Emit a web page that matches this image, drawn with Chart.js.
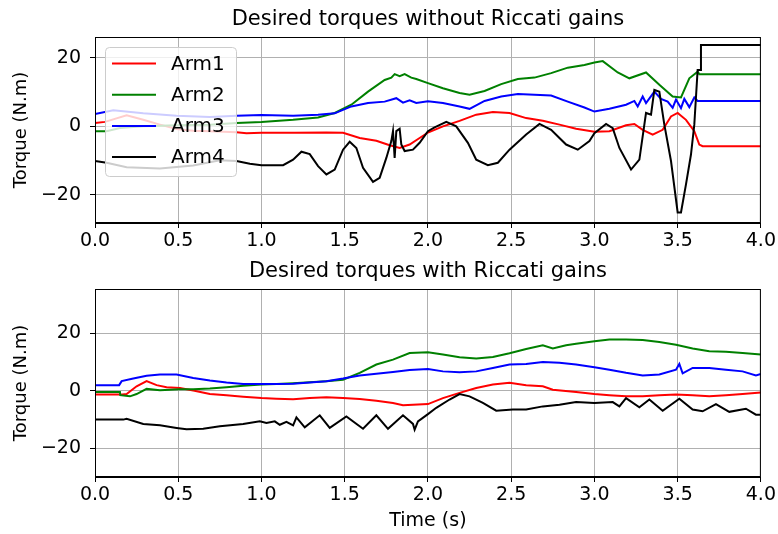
<!DOCTYPE html>
<html>
<head>
<meta charset="utf-8">
<script src="https://cdn.jsdelivr.net/npm/chart.js@4.4.1/dist/chart.umd.min.js"></script>
<style>
html, body { margin: 0; padding: 0; background: #fff; }
#wrap { position: relative; width: 778px; height: 534px; }
canvas { position: absolute; left: 0; }
#top_chart { top: 0; }
#bot_chart { top: 258px; }
</style>
</head>
<body>
<div id="wrap">
  <canvas id="top_chart" width="778" height="258"></canvas>
  <canvas id="bot_chart" width="778" height="276"></canvas>
</div>
<script>
const $ = e => document.querySelector(e);

const arms = ['Arm1', 'Arm2', 'Arm3', 'Arm4'];
const colors = ['#ff0000', '#008000', '#0000ff', '#000000'];
const yTicks = [-20, 0, 20];

// without Riccati gains: [time (s), torque (N.m)]
const topArm1 = [[0,1.0],[0.06,1.3],[0.19,3.2],[0.29,1.9],[0.39,0.5],[0.49,-0.8],[0.59,-1.3],[0.69,-1.4],[0.85,-1.7],[0.91,-2.0],[1.0,-1.9],[1.2,-1.9],[1.39,-1.8],[1.49,-1.9],[1.59,-3.4],[1.69,-4.2],[1.77,-5.5],[1.83,-6.3],[1.89,-5.3],[1.95,-3.4],[2.0,-1.8],[2.09,0],[2.19,1.6],[2.29,3.4],[2.39,4.2],[2.49,3.9],[2.59,2.4],[2.69,1.6],[2.79,0.5],[2.89,-0.7],[3.0,-1.6],[3.09,-1.4],[3.19,0.3],[3.24,0.7],[3.29,-1.0],[3.35,-2.4],[3.41,-1.0],[3.46,2.9],[3.5,3.9],[3.55,1.9],[3.6,-1.4],[3.63,-5.3],[3.65,-5.8],[4.0,-5.8]];
const topArm2 = [[0,-1.4],[0.07,-1.4],[0.15,-0.5],[0.29,0],[0.49,0.3],[0.69,0.5],[0.85,1.0],[1.0,1.3],[1.19,1.9],[1.34,2.6],[1.44,3.9],[1.54,6.3],[1.64,10.1],[1.74,13.5],[1.78,14.2],[1.8,15.2],[1.83,14.6],[1.86,15.2],[1.9,14.2],[1.93,13.8],[2.0,12.6],[2.09,11.1],[2.19,9.7],[2.25,9.2],[2.34,10.3],[2.44,12.3],[2.54,13.8],[2.64,14.2],[2.74,15.5],[2.84,17.1],[2.94,17.9],[3.0,18.6],[3.05,19.0],[3.14,15.7],[3.21,14.0],[3.31,15.7],[3.39,12.1],[3.47,8.7],[3.52,8.4],[3.57,14.0],[3.62,15.9],[3.63,15.2],[4.0,15.2]];
const topArm3 = [[0,3.6],[0.11,4.7],[0.29,3.8],[0.49,3.1],[0.69,2.7],[0.85,3.1],[1.0,3.3],[1.19,3.1],[1.34,3.4],[1.44,3.8],[1.54,5.8],[1.64,6.8],[1.74,7.2],[1.81,8.2],[1.85,6.9],[1.89,7.6],[1.93,6.8],[2.0,7.3],[2.09,6.8],[2.19,5.8],[2.25,5.1],[2.34,7.4],[2.44,8.7],[2.54,9.4],[2.64,9.2],[2.74,9.0],[2.84,7.2],[2.94,5.5],[3.0,4.3],[3.09,5.1],[3.19,6.3],[3.24,7.4],[3.26,5.8],[3.29,8.7],[3.31,6.8],[3.36,10.1],[3.4,8.0],[3.44,7.2],[3.47,5.4],[3.49,7.8],[3.52,5.3],[3.54,8.0],[3.57,5.6],[3.6,8.4],[3.62,7.4],[4.0,7.4]];
const topArm4 = [[0,-10.1],[0.07,-10.6],[0.19,-11.9],[0.39,-12.3],[0.59,-11.4],[0.75,-9.9],[0.85,-10.1],[0.93,-10.9],[1.0,-11.3],[1.13,-11.3],[1.19,-9.7],[1.24,-7.4],[1.29,-8.1],[1.34,-11.6],[1.39,-14.0],[1.44,-12.6],[1.49,-6.8],[1.53,-4.5],[1.57,-6.3],[1.61,-12.1],[1.67,-16.2],[1.71,-15.0],[1.75,-9.2],[1.78,-4.3],[1.79,-1.4],[1.80,-9.2],[1.81,-1.4],[1.83,-0.7],[1.84,-5.3],[1.86,-7.2],[1.91,-6.8],[1.95,-4.8],[2.0,-1.4],[2.04,-0.3],[2.11,1.3],[2.17,0],[2.24,-4.8],[2.29,-9.7],[2.36,-11.3],[2.42,-10.6],[2.49,-6.8],[2.59,-2.4],[2.67,0.7],[2.74,-1.0],[2.83,-5.3],[2.9,-6.8],[2.97,-4.3],[3.0,-2.0],[3.07,0.7],[3.11,-0.5],[3.15,-6.3],[3.22,-12.6],[3.27,-9.7],[3.31,3.9],[3.34,3.4],[3.36,10.6],[3.39,10.1],[3.42,0.5],[3.46,-10.1],[3.5,-25.1],[3.52,-25.1],[3.55,-16.9],[3.58,-8.2],[3.6,0.5],[3.62,16.4],[3.635,16.4],[3.64,23.7],[4.0,23.7]];

// with Riccati gains
const botArm1 = [[0,-1.4],[0.15,-1.4],[0.19,-1.2],[0.25,1.5],[0.31,3.3],[0.37,1.9],[0.43,1.2],[0.51,0.9],[0.59,0],[0.69,-1.2],[0.79,-1.6],[0.89,-2.1],[1.0,-2.6],[1.09,-2.8],[1.19,-3.0],[1.29,-2.6],[1.39,-2.3],[1.49,-2.6],[1.59,-2.9],[1.69,-3.5],[1.79,-4.3],[1.85,-5.1],[1.91,-4.9],[2.0,-4.7],[2.09,-2.6],[2.19,-0.8],[2.29,0.9],[2.39,2.1],[2.49,2.7],[2.59,1.9],[2.69,1.5],[2.75,0.3],[2.89,-0.5],[3.0,-1.2],[3.09,-1.6],[3.19,-2.0],[3.29,-2.0],[3.39,-1.6],[3.49,-1.4],[3.59,-1.6],[3.69,-2.0],[3.79,-1.6],[3.89,-1.2],[4.0,-0.7]];
const botArm2 = [[0,-0.5],[0.15,-0.5],[0.152,-1.6],[0.21,-2.0],[0.25,-1.2],[0.31,0.6],[0.39,0.1],[0.51,0.5],[0.59,0.5],[0.69,0.7],[0.79,1.2],[0.89,1.7],[1.0,2.1],[1.09,2.3],[1.19,2.6],[1.29,2.9],[1.39,3.3],[1.49,3.8],[1.59,6.2],[1.69,9.1],[1.79,10.8],[1.89,13.1],[2.0,13.4],[2.09,12.6],[2.19,11.6],[2.29,11.2],[2.39,11.7],[2.49,13.0],[2.59,14.5],[2.69,15.8],[2.75,14.7],[2.83,15.8],[2.89,16.3],[3.0,17.2],[3.09,17.8],[3.19,17.8],[3.29,17.6],[3.39,16.9],[3.49,16.0],[3.59,14.7],[3.69,13.7],[3.79,13.5],[3.89,13.1],[4.0,12.6]];
const botArm3 = [[0,1.9],[0.145,1.9],[0.16,3.3],[0.23,4.2],[0.31,5.2],[0.39,5.6],[0.49,5.6],[0.59,4.4],[0.69,3.5],[0.79,2.8],[0.89,2.3],[1.0,2.3],[1.09,2.3],[1.19,2.4],[1.29,2.8],[1.39,3.3],[1.49,4.2],[1.59,5.3],[1.69,5.9],[1.79,6.5],[1.89,7.2],[2.0,7.5],[2.09,6.7],[2.19,6.4],[2.29,6.7],[2.39,7.9],[2.49,9.1],[2.59,9.3],[2.69,10.0],[2.79,9.7],[2.89,9.1],[3.0,8.1],[3.09,7.3],[3.19,6.2],[3.29,5.3],[3.39,5.6],[3.49,7.3],[3.51,9.3],[3.53,6.0],[3.59,7.9],[3.69,7.9],[3.79,7.3],[3.89,6.7],[3.97,5.3],[4.0,5.8]];
const botArm4 = [[0,-10.1],[0.17,-10.1],[0.19,-9.8],[0.29,-11.6],[0.39,-12.1],[0.49,-13.0],[0.55,-13.5],[0.65,-13.3],[0.75,-12.4],[0.89,-11.6],[0.99,-10.7],[1.03,-11.3],[1.08,-10.7],[1.11,-11.9],[1.15,-10.9],[1.19,-12.1],[1.21,-9.3],[1.26,-12.8],[1.35,-8.6],[1.41,-13.0],[1.51,-9.0],[1.61,-13.3],[1.69,-8.6],[1.76,-13.3],[1.85,-8.6],[1.91,-11.6],[1.92,-13.6],[1.94,-10.7],[2.0,-8.2],[2.05,-6.0],[2.13,-3.1],[2.19,-1.2],[2.25,-2.0],[2.33,-4.3],[2.41,-7.0],[2.51,-6.6],[2.59,-6.6],[2.69,-5.5],[2.79,-4.9],[2.89,-4.0],[3.0,-4.3],[3.11,-4.0],[3.15,-5.5],[3.19,-2.6],[3.27,-5.8],[3.33,-3.1],[3.41,-7.0],[3.51,-2.8],[3.59,-6.6],[3.65,-7.2],[3.73,-4.7],[3.81,-7.4],[3.91,-6.3],[3.97,-8.4],[4.0,-8.4]];

const FONT = 'DejaVu Sans';

// black frame round the axes, like matplotlib spines
const frame = {
    id: 'frame',
    afterDraw(chart) {
        const {ctx, chartArea: a} = chart;
        ctx.save();
        ctx.strokeStyle = '#000';
        ctx.lineWidth = 1;
        ctx.strokeRect(a.left + 0.5, a.top + 0.5, a.right - a.left - 1, a.bottom - a.top - 1);
        ctx.restore();
    }
};

// title centred over the axes, not over the whole canvas
const axesTitle = {
    id: 'axesTitle',
    afterDraw(chart, args, opts) {
        const {ctx, chartArea: a} = chart;
        ctx.save();
        ctx.font = '21px "' + FONT + '"';
        ctx.fillStyle = '#000';
        ctx.textAlign = 'center';
        ctx.textBaseline = 'middle';
        ctx.fillText(opts.text, (a.left + a.right) / 2, opts.y);
        ctx.restore();
    }
};

// legend box inside the plot, upper left
const boxLegend = {
    id: 'boxLegend',
    afterDatasetsDraw(chart, args, opts) {
        if (!opts.show) return;
        const {ctx, chartArea: a} = chart;
        const x = a.left + 10, y = a.top + 10, w = 131, h = 129;
        ctx.save();
        ctx.fillStyle = 'rgba(255,255,255,0.8)';
        ctx.strokeStyle = '#cccccc';
        ctx.lineWidth = 1;
        ctx.beginPath();
        ctx.roundRect(x + 0.5, y + 0.5, w, h, 4);
        ctx.fill();
        ctx.stroke();
        ctx.font = '20px "' + FONT + '"';
        ctx.textBaseline = 'middle';
        chart.data.datasets.forEach((ds, i) => {
            const cy = y + 16.5 + i * 31.2;
            ctx.strokeStyle = ds.borderColor;
            ctx.lineWidth = 2;
            ctx.beginPath();
            ctx.moveTo(x + 7, cy);
            ctx.lineTo(x + 51, cy);
            ctx.stroke();
            ctx.fillStyle = '#000';
            ctx.fillText(ds.label, x + 66, cy + 1);
        });
        ctx.restore();
    }
};

function createChart(node, title, series, yMin, yMax, o) {
    return new Chart(node, {
        type: 'line',
        data: {
            datasets: series.map((s, i) => ({
                label: arms[i],
                data: s.map(([t, v]) => ({x: t, y: v})),
                borderColor: colors[i],
                borderWidth: 2,
                pointRadius: 0,
                tension: 0,
                fill: false,
                order: series.length - i
            }))
        },
        options: {
            responsive: false,
            animation: false,
            layout: {padding: {left: 0, right: 17, top: o.top, bottom: 0}},
            plugins: {
                legend: {display: false},
                tooltip: {enabled: false},
                title: {display: false},
                boxLegend: {show: o.legend},
                axesTitle: {text: title, y: o.titleY}
            },
            scales: {
                x: {
                    type: 'linear',
                    min: 0,
                    max: 4,
                    afterBuildTicks: s => { s.ticks = [0, 0.5, 1, 1.5, 2, 2.5, 3, 3.5, 4].map(v => ({value: v})); },
                    afterFit: s => { s.height = o.xHeight; },
                    ticks: {
                        color: '#000',
                        font: {family: FONT, size: 19},
                        padding: 2,
                        maxRotation: 0,
                        callback: v => v.toFixed(1)
                    },
                    grid: {color: '#b0b0b0', tickColor: '#000', tickLength: 5, lineWidth: 1},
                    border: {display: true, color: '#000'},
                    title: {
                        display: o.xTitle,
                        text: 'Time (s)',
                        color: '#000',
                        font: {family: FONT, size: 19},
                        padding: {top: 0, bottom: 2}
                    }
                },
                y: {
                    type: 'linear',
                    min: yMin,
                    max: yMax,
                    afterBuildTicks: s => { s.ticks = yTicks.map(v => ({value: v})); },
                    afterFit: s => { s.width = 95; },
                    ticks: {
                        color: '#000',
                        font: {family: FONT, size: 19},
                        padding: 9,
                        callback: v => String(v).replace('-', '\u2212')
                    },
                    grid: {color: '#b0b0b0', tickColor: '#000', tickLength: 5, lineWidth: 1},
                    border: {display: true, color: '#000'},
                    title: {
                        display: true,
                        text: 'Torque (N.m)',
                        color: '#000',
                        font: {family: FONT, size: 18},
                        padding: {top: 11, bottom: 0}
                    }
                }
            }
        },
        plugins: [boxLegend, frame, axesTitle]
    });
}

const top_chart = createChart($('#top_chart'), 'Desired torques without Riccati gains',
    [topArm1, topArm2, topArm3, topArm4], -28.16, 26.03,
    {legend: true, xTitle: false, top: 37, titleY: 20, xHeight: 35});
const bot_chart = createChart($('#bot_chart'), 'Desired torques with Riccati gains',
    [botArm1, botArm2, botArm3, botArm4], -30.1, 35.4,
    {legend: false, xTitle: true, top: 31, titleY: 14, xHeight: 57});
</script>
</body>
</html>
